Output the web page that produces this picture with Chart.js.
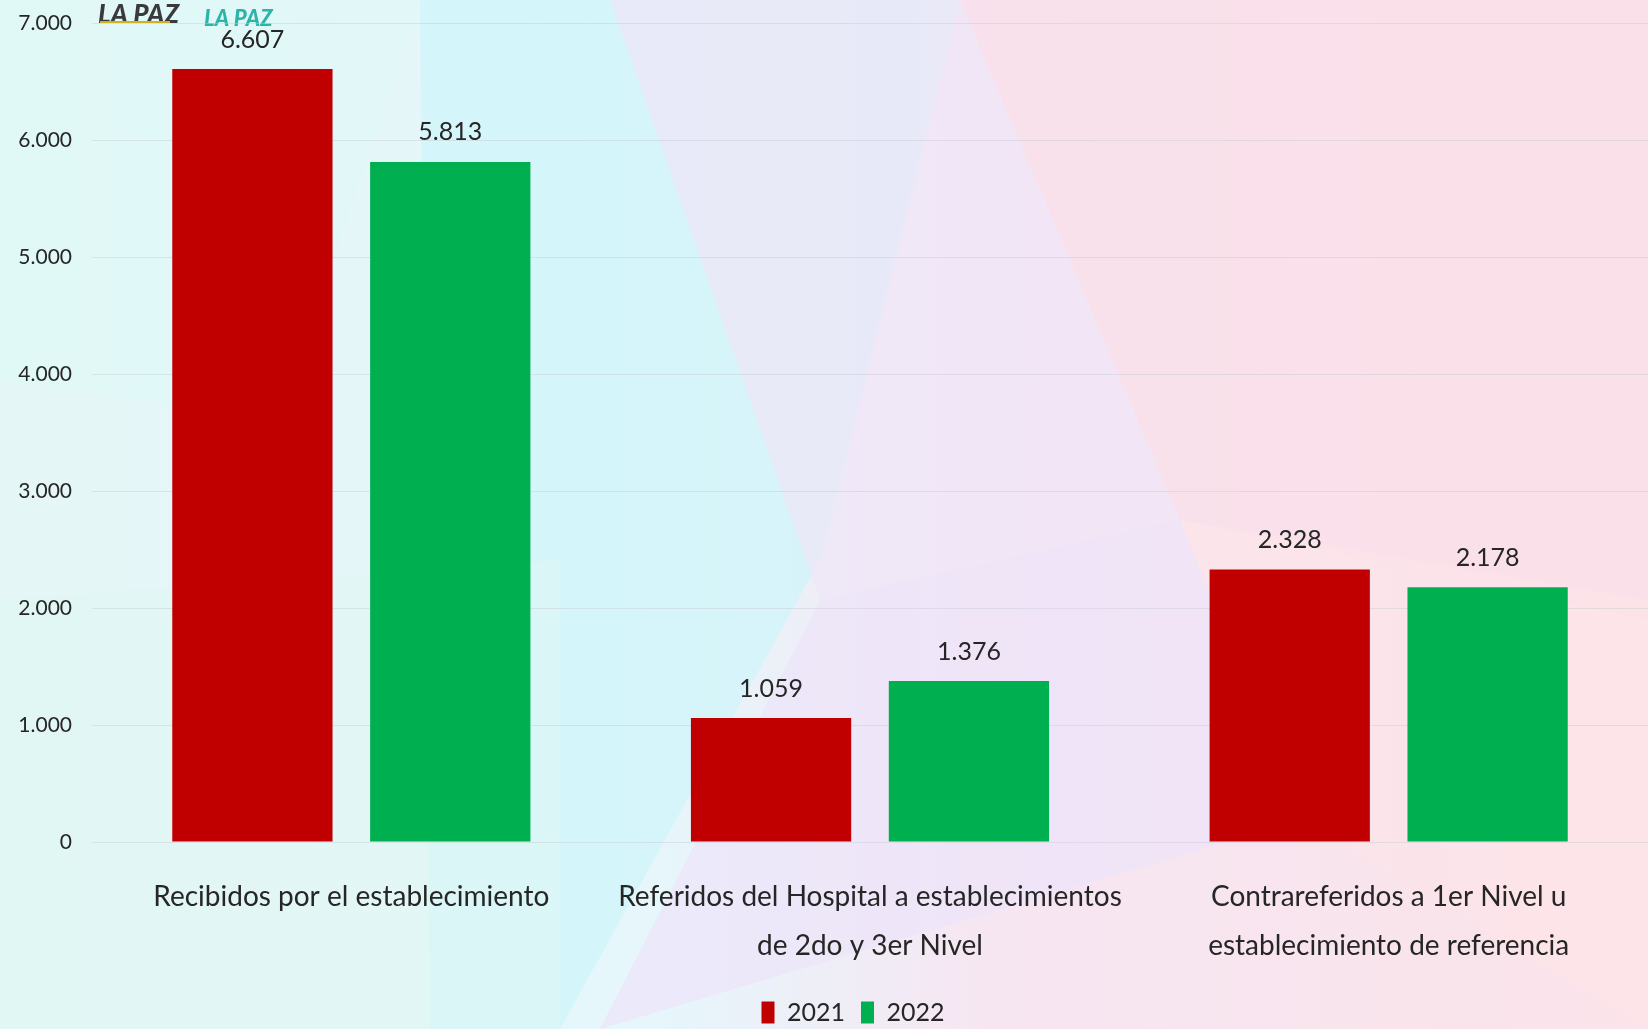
<!DOCTYPE html>
<html>
<head>
<meta charset="utf-8">
<script src="https://cdn.jsdelivr.net/npm/chart.js@4.4.1/dist/chart.umd.min.js"></script>
<style>
  html, body { margin: 0; padding: 0; background: #eef8f8; }
  #wrap { width: 1648px; height: 1029px; position: relative; }
</style>
</head>
<body>
<div id="wrap"><canvas id="grafico" width="1648" height="1029"></canvas></div>
<script>
  // datos
  const categorias = [
    'Recibidos por el establecimiento',
    ['Referidos del Hospital a establecimientos', 'de 2do y 3er Nivel'],
    ['Contrareferidos a 1er Nivel u', 'establecimiento de referencia']
  ];
  const serie2021 = [6607, 1059, 2328];
  const serie2022 = [5813, 1376, 2178];
  const ticksY = [0, 1000, 2000, 3000, 4000, 5000, 6000, 7000];

  const fuente = "Lato, 'Liberation Sans', sans-serif";

  // formato con punto de miles
  const fmt = v => v.toString().replace(/\B(?=(\d{3})+(?!\d))/g, '.');

  /* fondo con facetas pastel */
  const fondo = {
    id: 'fondo',
    beforeDraw(chart) {
      const c = chart.ctx, w = chart.width, h = chart.height;
      c.save();
      const g = c.createLinearGradient(0, 0, w, 0);
      g.addColorStop(0, '#e4f7f6');
      g.addColorStop(0.4, '#e6f6fb');
      g.addColorStop(0.6, '#f6e6f2');
      g.addColorStop(1, '#fbe3e9');
      c.fillStyle = g;
      c.fillRect(0, 0, w, h);
      const poly = (pts, col) => {
        c.beginPath();
        c.moveTo(pts[0][0], pts[0][1]);
        pts.slice(1).forEach(p => c.lineTo(p[0], p[1]));
        c.closePath();
        c.fillStyle = col;
        c.fill();
      };
      poly([[420, 0], [960, 0], [820, 560], [560, 1029], [430, 1029]], 'rgba(205,245,250,0.7)');
      poly([[610, 0], [960, 0], [1180, 520], [820, 600]], 'rgba(240,230,248,0.7)');
      poly([[960, 0], [1648, 0], [1648, 620], [1180, 520]], 'rgba(250,222,232,0.6)');
      poly([[820, 600], [1180, 520], [1300, 820], [600, 1029]], 'rgba(236,228,250,0.7)');
      poly([[1180, 520], [1648, 600], [1648, 1029], [1300, 820]], 'rgba(252,228,232,0.7)');
      poly([[0, 0], [420, 0], [280, 420], [0, 380]], 'rgba(222,248,246,0.6)');
      poly([[0, 600], [560, 560], [560, 1029], [0, 1029]], 'rgba(224,246,244,0.6)');
      // logos
      c.font = "900 italic 26px Lato, sans-serif";
      c.fillStyle = '#3a3a3a';
      c.fillText('LA PAZ', 98, 15);
      c.fillStyle = '#d4b020';
      c.fillRect(100, 21, 70, 2);
      c.fillStyle = '#2bb5a8';
      c.font = "900 italic 22px Lato, sans-serif";
      c.fillText('LA PAZ', 204, 19);
      c.restore();
    }
  };

  /* valores encima de las barras */
  const etiquetas = {
    id: 'etiquetas',
    afterDatasetsDraw(chart) {
      const c = chart.ctx;
      c.save();
      c.font = '25px ' + fuente;
      c.fillStyle = '#262626';
      c.textAlign = 'center';
      c.textBaseline = 'bottom';
      chart.data.datasets.forEach((ds, i) => {
        chart.getDatasetMeta(i).data.forEach((bar, j) => {
          c.fillText(fmt(ds.data[j]), bar.x, bar.y - 17);
        });
      });
      c.restore();
    }
  };

  // corre la leyenda un poco a la derecha, como en el original
  const leyendaDer = {
    id: 'leyendaDer',
    afterLayout(chart) {
      chart.legend.left += 29;
      chart.legend.right += 29;
    }
  };

  document.addEventListener('DOMContentLoaded', () => {
    const ctx = document.getElementById('grafico').getContext('2d');
    Chart.defaults.font.family = fuente;
    Chart.defaults.color = '#262626';

    new Chart(ctx, {
      type: 'bar',
      data: {
        labels: categorias,
        datasets: [{
            label: '2021',
            data: serie2021,
            backgroundColor: '#c00000'
          },
          {
            label: '2022',
            data: serie2022,
            backgroundColor: '#00b050'
          }
        ]
      },
      plugins: [fondo, etiquetas, leyendaDer],
      options: {
        responsive: false,
        animation: false,
        devicePixelRatio: 1,
        layout: {
          padding: { top: 23, right: 0, bottom: -6, left: 0 }
        },
        datasets: {
          bar: {
            categoryPercentage: 0.763,
            barPercentage: 0.81
          }
        },
        scales: {
          x: {
            grid: { display: false, drawTicks: false },
            border: { display: false },
            ticks: {
              padding: 30,
              maxRotation: 0,
              autoSkip: false,
              font: { size: 28, lineHeight: '49px' },
              color: '#262626'
            },
            afterFit: axis => { axis.height = 142; }
          },
          y: {
            min: 0,
            max: 7000,
            afterBuildTicks: axis => { axis.ticks = ticksY.map(v => ({ value: v })); },
            grid: { color: 'rgba(200,205,210,0.45)', drawTicks: false },
            border: { display: false },
            ticks: {
              padding: 20,
              font: { size: 21, lineHeight: 1 },
              color: '#262626',
              callback: value => fmt(value)
            },
            afterFit: axis => {
              axis.width = 92;
              axis.paddingTop = 11;
              axis.paddingBottom = 11;
            }
          }
        },
        plugins: {
          tooltip: { enabled: false },
          legend: {
            position: 'bottom',
            labels: {
              boxWidth: 13,
              boxHeight: 22,
              padding: 16,
              font: { size: 25 },
              color: '#262626'
            }
          }
        }
      }
    });
  });
</script>
</body>
</html>
